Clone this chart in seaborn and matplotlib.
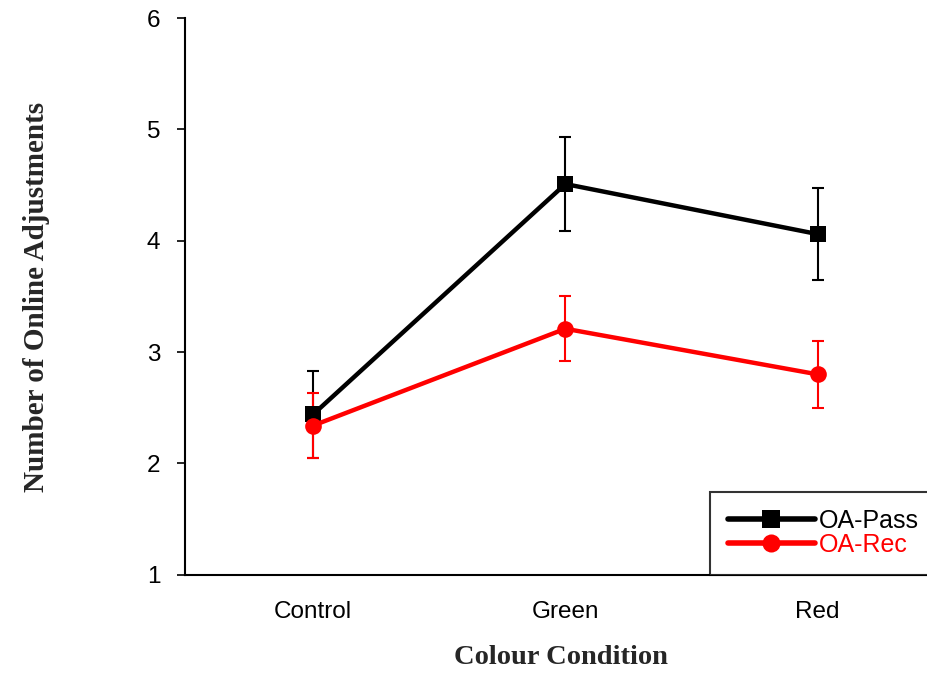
import matplotlib
matplotlib.use('Agg')
import matplotlib.pyplot as plt
import seaborn as sns
import pandas as pd

conditions = ['Control', 'Green', 'Red']
pass_mean = [2.44, 4.51, 4.06]
pass_err = [0.39, 0.42, 0.41]
rec_mean = [2.34, 3.21, 2.80]
rec_err = [0.29, 0.29, 0.30]

sns.set_style('white')
plt.rcParams['font.family'] = ['Liberation Sans', 'DejaVu Sans']

df = pd.DataFrame({
    'Condition': conditions * 2,
    'x': list(range(len(conditions))) * 2,
    'Mean': pass_mean + rec_mean,
    'Err': pass_err + rec_err,
    'Group': ['OA-Pass'] * 3 + ['OA-Rec'] * 3,
})

fig = plt.figure(figsize=(9.27, 6.73), dpi=100)
ax = fig.add_axes([0.2, 0.146, 0.81, 0.827])

colors = {'OA-Pass': 'black', 'OA-Rec': '#ff0000'}
markers = {'OA-Pass': 's', 'OA-Rec': 'o'}
for g, sub in df.groupby('Group'):
    ax.errorbar(sub['x'], sub['Mean'], yerr=sub['Err'], fmt='none',
                ecolor=colors[g], elinewidth=1.5, capsize=4.5, capthick=1.5, zorder=2)
sns.lineplot(data=df, x='x', y='Mean', hue='Group', style='Group',
             palette=colors, markers=markers, dashes=False, linewidth=3.2,
             markersize=12, markeredgewidth=0, ax=ax, zorder=3)

ax.set_xlim(-0.506, 2.47)
ax.set_ylim(1, 6)
ax.set_yticks([1, 2, 3, 4, 5, 6])
ax.set_xticks(range(len(conditions)))
ax.set_xticklabels(conditions)
ax.tick_params(axis='both', labelsize=17.5, colors='black')
ax.tick_params(axis='y', direction='out', length=6, width=1.2, left=True, pad=12)
ax.tick_params(axis='x', length=0, pad=19)

for s in ['top', 'right']:
    ax.spines[s].set_visible(False)
for s in ['left', 'bottom']:
    ax.spines[s].set_color('black')
    ax.spines[s].set_linewidth(1.5)

ax.set_xlabel('Colour Condition', fontsize=20.5, fontweight='bold',
              family='Liberation Serif', labelpad=16)
ax.set_ylabel('Number of Online Adjustments', fontsize=21, fontweight='bold',
              family='Liberation Serif', labelpad=70)

leg = ax.legend(loc='lower right', bbox_to_anchor=(1.0, 0.0), frameon=True,
                fancybox=False, fontsize=18, handlelength=3.5,
                borderaxespad=0, borderpad=0.7, labelspacing=0.0, handletextpad=0.15)
leg.get_frame().set_edgecolor('black')
leg.get_frame().set_linewidth(1.5)
for line in leg.get_lines():
    line.set_linewidth(4)
    line.set_markersize(13)
for t in leg.get_texts():
    t.set_color(colors[t.get_text()])

fig.savefig('out.png', dpi=100)
